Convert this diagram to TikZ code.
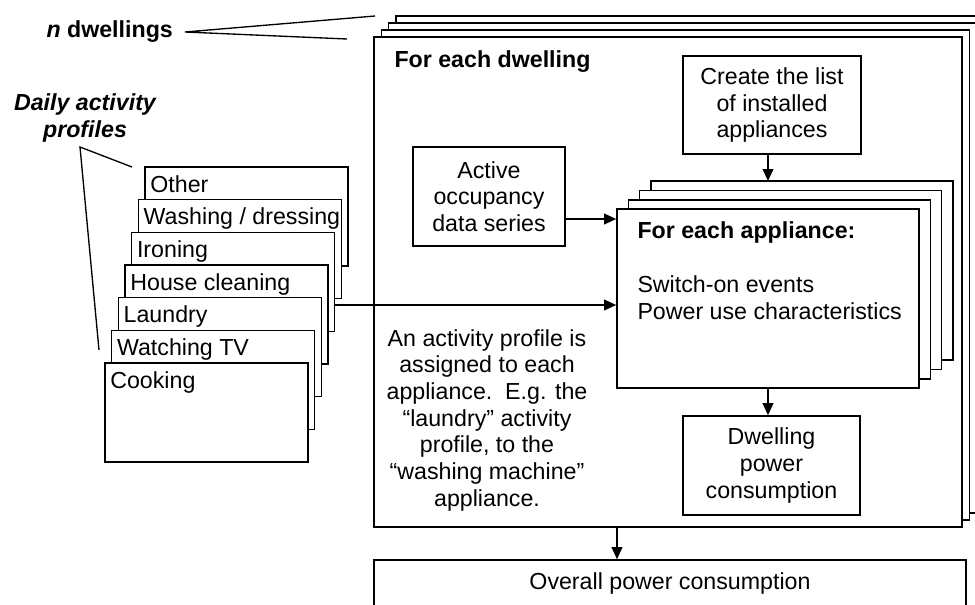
\documentclass[tikz,border=0pt]{standalone}
\usepackage{fontspec}
\setmainfont{Liberation Sans}
\usetikzlibrary{arrows.meta,fit}

\tikzset{every picture/.style={line width=0.75pt}}

\begin{document}
\begin{tikzpicture}[x=0.75pt,y=0.75pt,yscale=-1,xscale=1,
        box/.style={draw,fill=white,line width=1.2pt,inner sep=0pt},
        arr/.style={line width=1.2pt,-{Triangle[length=9pt,width=8pt]}},
        leader/.style={line width=1pt},
        txt/.style={inner sep=0.75pt,font=\fontsize{17.4}{20}\selectfont},
        boldtxt/.style={inner sep=0.75pt,font=\fontsize{17.4}{20}\selectfont\bfseries}]
        \useasboundingbox (0,0) rectangle (975,604);

        %Shape: Stacked dwellings
        \foreach \k in {3,2,1}
            \draw [box] (374+7.3*\k,37-7*\k) rectangle (962+7.3*\k,527-7*\k) ;
        \node [box,fit={(374,37) (962,527)}] (dwelling) {};
        % Text Node
        \node [boldtxt,anchor=west] (dwellhead) at (393,62) {For each dwelling};

        %Shape: Rectangle
        \node [box,fit={(683,56) (861,154)}] (list) {};
        \node [txt,align=center] (listtxt) at (list.center) {Create the list\\of installed\\appliances};
        %Shape: Rectangle
        \node [box,fit={(413,147) (565,246)}] (occupancy) {};
        \node [txt,align=center] (occtxt) at (occupancy.center) {Active\\occupancy\\data series};

        %Shape: Stacked appliances
        \foreach \k in {3,2,1}
            \draw [box] (617+11.3*\k,209-9.3*\k) rectangle (919+11.3*\k,388-9.3*\k) ;
        \node [box,fit={(617,209) (919,388)}] (appliance) {};
        \coordinate (stacktop) at (768,181);
        % Text Node
        \node [boldtxt,anchor=west] (apphead) at (636,232) {For each appliance:};
        % Text Node
        \node [txt,anchor=west,align=left] (appinfo) at (636,298) {Switch-on events\\Power use characteristics};

        %Shape: Rectangle
        \node [box,fit={(683,416) (860,515)}] (power) {};
        \node [txt,align=center] (powertxt) at (power.center) {Dwelling\\power\\consumption};

        %Shape: Rectangle
        \node [box,fit={(374,560) (966,615)}] (overall) {};
        % Text Node
        \node [txt] (overalltxt) at (670,583) {Overall power consumption};

        %Shape: Activity profiles
        \foreach \name [count=\i from 0] in {Other,Washing / dressing,Ironing,House cleaning,Laundry,Watching TV,Cooking} {
            \node [box,fit={(145-6.67*\i,167+32.67*\i) (348-6.67*\i,266+32.67*\i)}] (prof\i) {};
            \node [txt,anchor=base west] (proflbl\i) at ([xshift=3.5pt,yshift=19.5pt]prof\i.north west) {\name};
        }

        % Text Node
        \node [txt,align=center] (note) at (487,420) {An activity profile is\\assigned to each\\appliance.\ \ E.g. the\\``laundry'' activity\\profile, to the\\``washing machine''\\appliance.};

        % Text Node
        \node [boldtxt,anchor=west] (ndwell) at (45,32) {\textit{n} dwellings};
        \coordinate (napex) at (185,32);
        \coordinate (nend1) at (375,16);
        \coordinate (nend2) at (347,39);
        \draw [leader] (nend1) -- (napex) -- (nend2) ;

        % Text Node
        \node [boldtxt,font=\fontsize{17.4}{20}\selectfont\bfseries\itshape,align=center] (daily) at (85,118) {Daily activity\\profiles};
        \coordinate (dapex) at (80,147);
        \coordinate (dend1) at (132,167);
        \coordinate (dend2) at (99,350);
        \draw [leader] (dend1) -- (dapex) -- (dend2) ;

        %Straight Lines
        \draw [arr] (stacktop |- list.south) -- (stacktop) ;
        \draw [arr] (occupancy.east |- 0,219) -- (appliance.west |- 0,219) ;
        \draw [arr] (prof2.east |- 0,305) -- (appliance.west |- 0,305) ;
        \draw [arr] (appliance.south) -- (appliance.south |- power.north) ;
        \draw [arr] (dwelling.south -| 617,0) -- (overall.north -| 617,0) ;

    \end{tikzpicture}
\end{document}
